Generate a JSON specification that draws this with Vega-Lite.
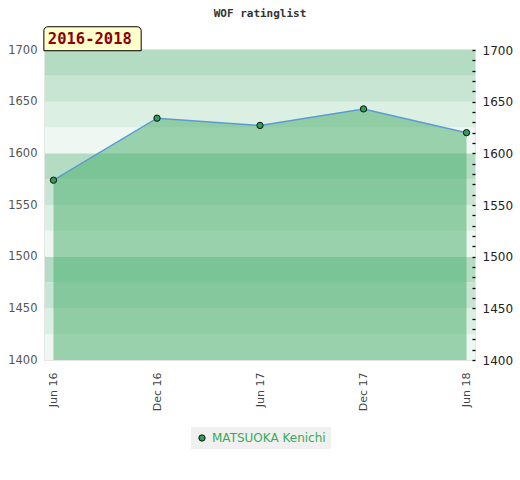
{
  "$schema": "https://vega.github.io/schema/vega-lite/v6.json",
  "width": 430,
  "height": 310,
  "autosize": {"type": "none"},
  "padding": {"left": 45, "top": 50, "right": 45, "bottom": 120},
  "background": "white",
  "config": {
    "view": {"stroke": "#dddddd", "strokeWidth": 1.5},
    "font": "DejaVu Sans"
  },
  "title": {
    "text": "WOF ratinglist",
    "font": "DejaVu Sans Mono",
    "fontSize": 11,
    "fontWeight": "bold",
    "color": "#333333",
    "anchor": "middle",
    "frame": "group",
    "offset": 7
  },
  "datasets": {
    "ratings": [
      {"date": "2016-06-01", "rating": 1574, "player": "MATSUOKA Kenichi"},
      {"date": "2016-12-01", "rating": 1634, "player": "MATSUOKA Kenichi"},
      {"date": "2017-06-01", "rating": 1627, "player": "MATSUOKA Kenichi"},
      {"date": "2017-12-01", "rating": 1643, "player": "MATSUOKA Kenichi"},
      {"date": "2018-06-01", "rating": 1620, "player": "MATSUOKA Kenichi"}
    ],
    "bands": [
      {"lo": 1400, "hi": 1425, "shade": "d"},
      {"lo": 1425, "hi": 1450, "shade": "c"},
      {"lo": 1450, "hi": 1475, "shade": "b"},
      {"lo": 1475, "hi": 1500, "shade": "a"},
      {"lo": 1500, "hi": 1525, "shade": "d"},
      {"lo": 1525, "hi": 1550, "shade": "c"},
      {"lo": 1550, "hi": 1575, "shade": "b"},
      {"lo": 1575, "hi": 1600, "shade": "a"},
      {"lo": 1600, "hi": 1625, "shade": "d"},
      {"lo": 1625, "hi": 1650, "shade": "c"},
      {"lo": 1650, "hi": 1675, "shade": "b"},
      {"lo": 1675, "hi": 1700, "shade": "a"}
    ],
    "period": [{"label": "2016-2018"}]
  },
  "layer": [
    {
      "data": {"name": "bands"},
      "mark": {"type": "rect"},
      "encoding": {
        "y": {
          "field": "lo", "type": "quantitative",
          "scale": {"domain": [1400, 1700], "zero": false, "nice": false},
          "axis": {
            "orient": "left",
            "values": [1400, 1450, 1500, 1550, 1600, 1650, 1700],
            "format": "d",
            "ticks": false, "domain": false, "grid": false, "title": null,
            "labelColor": "#555555", "labelFontSize": 11.5, "labelPadding": 8
          }
        },
        "y2": {"field": "hi"},
        "color": {
          "field": "shade", "type": "nominal",
          "scale": {"domain": ["a", "b", "c", "d"], "range": ["#b3dcc3", "#c8e5d3", "#dcefe3", "#eef7f2"]},
          "legend": null
        }
      }
    },
    {
      "data": {"name": "ratings"},
      "mark": {"type": "area", "color": "#44ab68", "opacity": 0.5},
      "encoding": {
        "x": {
          "field": "date", "type": "temporal",
          "scale": {"type": "utc", "domain": [{"year": 2016, "month": 5, "date": 17, "utc": true}, {"year": 2018, "month": 6, "date": 16, "utc": true}]},
          "axis": {
            "values": [
              {"year": 2016, "month": 6, "date": 1, "utc": true},
              {"year": 2016, "month": 12, "date": 1, "utc": true},
              {"year": 2017, "month": 6, "date": 1, "utc": true},
              {"year": 2017, "month": 12, "date": 1, "utc": true},
              {"year": 2018, "month": 6, "date": 1, "utc": true}
            ],
            "format": "%b %y",
            "labelAngle": -90, "labelAlign": "right", "labelBaseline": "middle",
            "ticks": false, "domain": false, "grid": false, "title": null,
            "labelColor": "#444444", "labelFontSize": 11, "labelPadding": 12
          }
        },
        "y": {"field": "rating", "type": "quantitative", "axis": null},
        "y2": {"datum": 1400}
      }
    },
    {
      "data": {"name": "ratings"},
      "transform": [{"filter": "datum.date == '2016-06-01'"}],
      "mark": {"type": "rule", "color": "#3d8f5c", "strokeWidth": 1},
      "encoding": {
        "x": {"field": "date", "type": "temporal"},
        "y": {"field": "rating", "type": "quantitative", "axis": null},
        "y2": {"datum": 1400}
      }
    },
    {
      "data": {"name": "ratings"},
      "transform": [{"filter": "datum.date == '2018-06-01'"}],
      "mark": {"type": "rule", "color": "#2eb34f", "strokeWidth": 1.5},
      "encoding": {
        "x": {"field": "date", "type": "temporal"},
        "y": {"field": "rating", "type": "quantitative", "axis": null},
        "y2": {"datum": 1400}
      }
    },
    {
      "data": {"name": "ratings"},
      "mark": {"type": "line", "color": "#5b9bd5", "strokeWidth": 1.5},
      "encoding": {
        "x": {"field": "date", "type": "temporal"},
        "y": {"field": "rating", "type": "quantitative", "axis": null}
      }
    },
    {
      "data": {"name": "ratings"},
      "mark": {"type": "point", "filled": true, "stroke": "#111111", "strokeWidth": 1, "size": 40, "opacity": 1},
      "encoding": {
        "x": {"field": "date", "type": "temporal"},
        "y": {
          "field": "rating", "type": "quantitative",
          "axis": {
            "orient": "right",
            "zindex": 2,
            "values": [1400, 1410, 1420, 1430, 1440, 1450, 1460, 1470, 1480, 1490, 1500, 1510, 1520, 1530, 1540, 1550, 1560, 1570, 1580, 1590, 1600, 1610, 1620, 1630, 1640, 1650, 1660, 1670, 1680, 1690, 1700],
            "format": "d",
            "labelExpr": "datum.value % 50 == 0 ? datum.label : ''",
            "labelOverlap": false,
            "tickSize": -3, "tickColor": "#000000", "tickWidth": 1.3,
            "domain": false, "grid": false, "title": null,
            "labelColor": "#222222", "labelFontSize": 12, "labelPadding": 10
          }
        },
        "fill": {
          "field": "player", "type": "nominal",
          "scale": {"range": ["#2e9e5a"]},
          "legend": {
            "title": null, "orient": "none", "legendX": 146, "legendY": 377,
            "fillColor": "#f0f0f0", "padding": 5,
            "labelColor": "#3aaa5a", "labelFontSize": 12,
            "symbolStrokeColor": "#111111", "symbolStrokeWidth": 1, "symbolSize": 40
          }
        }
      }
    },
    {
      "data": {"name": "period"},
      "mark": {"type": "rect", "fill": "#ffffcc", "stroke": "#000000", "strokeWidth": 1, "cornerRadiusTopLeft": 4, "cornerRadiusTopRight": 4},
      "encoding": {
        "x": {"datum": {"year": 2016, "month": 5, "date": 15, "utc": true}, "type": "temporal"},
        "x2": {"datum": {"year": 2016, "month": 11, "date": 3, "utc": true}},
        "y": {"datum": 1699.3, "type": "quantitative", "axis": null},
        "y2": {"datum": 1722.5}
      }
    },
    {
      "data": {"name": "period"},
      "mark": {"type": "text", "font": "DejaVu Sans Mono", "fontSize": 15.5, "fontWeight": "bold", "color": "#8b0000", "align": "left", "baseline": "middle"},
      "encoding": {
        "x": {"datum": {"year": 2016, "month": 5, "date": 22, "utc": true}, "type": "temporal"},
        "y": {"datum": 1711, "type": "quantitative", "axis": null},
        "text": {"field": "label"}
      }
    }
  ],
  "resolve": {"scale": {"color": "independent"}, "axis": {"y": "independent"}}
}
